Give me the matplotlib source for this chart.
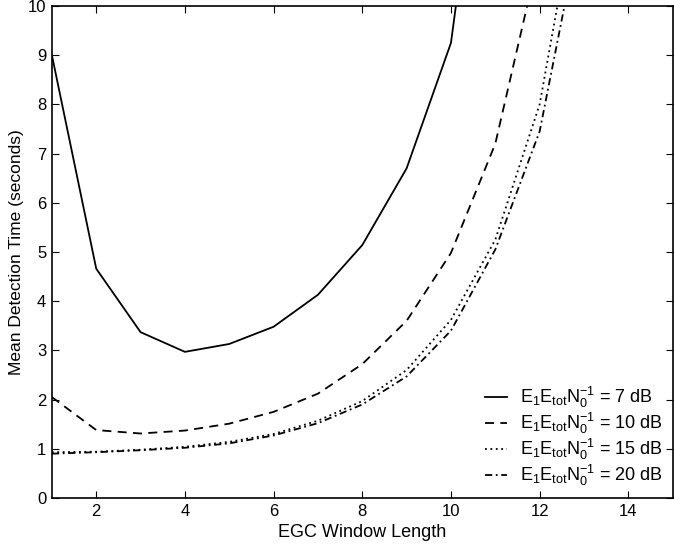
import matplotlib
matplotlib.use("Agg")
from matplotlib import pyplot as plt

plt.rcParams['font.family'] = ['Liberation Sans', 'DejaVu Sans']
plt.rcParams['mathtext.fontset'] = 'custom'
plt.rcParams['mathtext.rm'] = 'Liberation Sans'
plt.rcParams['mathtext.it'] = 'Liberation Sans'

# window lengths
window = [1, 2, 3, 4, 5, 6, 7, 8, 9, 10, 11, 12, 13]

# mean detection time (seconds) per SNR
t_7db = [9.0, 4.66, 3.37, 2.97, 3.13, 3.48, 4.13, 5.14, 6.70, 9.25, 16.0, 30.0, 50.0]
t_10db = [2.05, 1.38, 1.31, 1.37, 1.51, 1.75, 2.12, 2.72, 3.60, 4.98, 7.20, 11.1, 18.0]
t_15db = [0.93, 0.94, 0.98, 1.04, 1.14, 1.30, 1.57, 1.97, 2.60, 3.62, 5.25, 8.0, 13.0]
t_20db = [0.90, 0.93, 0.97, 1.02, 1.11, 1.27, 1.52, 1.90, 2.47, 3.40, 5.05, 7.45, 12.0]

labels = ['7 dB', '10 dB', '15 dB', '20 dB']

fig = plt.figure(figsize=(6.74, 5.46), dpi=100)
ax = fig.add_axes([0.077, 0.088, 0.921, 0.901])

styles = [dict(linestyle='-'),
          dict(linestyle=(0, (5, 3.5))),
          dict(linestyle=(0, (1, 2))),
          dict(linestyle=(0, (4, 2, 1, 2)))]

for series, lab, st in zip([t_7db, t_10db, t_15db, t_20db], labels, styles):
    ax.plot(window, series, color='black', lw=1.3,
            label=r'$\mathregular{E_1E_{tot}N_0^{-1}}$ = ' + lab, **st)

ax.set_xlim(1, 15)
ax.set_ylim(0, 10)
ax.set_xticks([2, 4, 6, 8, 10, 12, 14])
ax.set_yticks(range(0, 11))
ax.tick_params(direction='in', top=True, right=True, labelsize=12, length=5, pad=4)
for s in ax.spines.values():
    s.set_linewidth(1.2)

ax.set_xlabel('EGC Window Length', fontsize=13, labelpad=4)
ax.set_ylabel('Mean Detection Time (seconds)', fontsize=12.5, labelpad=3)

leg = ax.legend(loc='lower right', frameon=False, fontsize=13, handlelength=1.2,
                handletextpad=0.7, labelspacing=0.05, borderaxespad=0.15)

fig.savefig('out.png', dpi=100)
